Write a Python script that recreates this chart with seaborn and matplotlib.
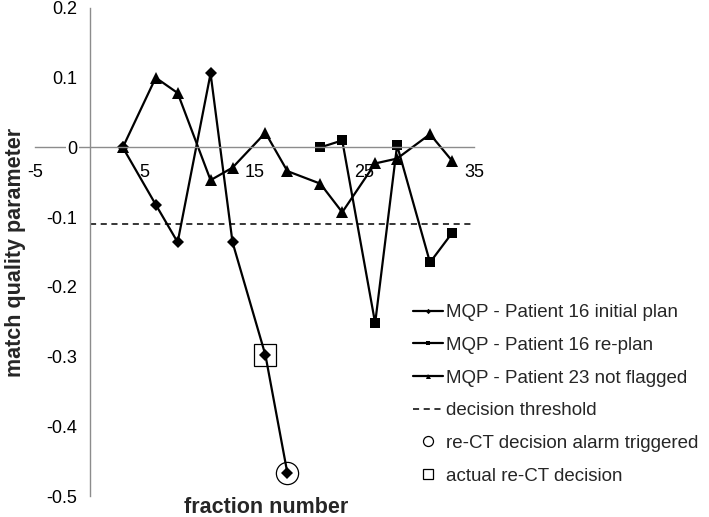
import seaborn as sns
import numpy as np
import matplotlib.pyplot as plt
import matplotlib.ticker as mticker

# fraction numbers and MQP values
p16_init_x = [3, 6, 8, 11, 13, 16, 18]
p16_init_y = [0.0, -0.082, -0.136, 0.106, -0.136, -0.298, -0.467]
p16_replan_x = [21, 23, 26, 28, 31, 33]
p16_replan_y = [0.0, 0.010, -0.252, 0.003, -0.165, -0.123]
p23_x = [3, 6, 8, 11, 13, 16, 18, 21, 23, 26, 28, 31, 33]
p23_y = [0.0, 0.100, 0.078, -0.047, -0.029, 0.021, -0.034, -0.052, -0.093, -0.023, -0.016, 0.019, -0.019]
threshold_x = [0, 35]
threshold_y = [-0.11, -0.11]
alarm_x = [18]
alarm_y = [-0.467]
decision_x = [16]
decision_y = [-0.298]
x_ticks = [-5, 5, 15, 25, 35]
y_ticks = [-0.5, -0.4, -0.3, -0.2, -0.1, 0.0, 0.1, 0.2]

sns.set_style("white")
plt.rcParams['font.family'] = ['Liberation Sans', 'DejaVu Sans']

fig = plt.figure(figsize=(7.09, 5.17), dpi=100)
ax = fig.add_axes([0.0494, 0.0406, 0.619, 0.944])

sns.lineplot(x=p16_init_x, y=p16_init_y, color='black', marker='D', markersize=6,
             markeredgewidth=0, linewidth=1.6, ax=ax, label='MQP - Patient 16 initial plan')
sns.lineplot(x=p16_replan_x, y=p16_replan_y, color='black', marker='s', markersize=7,
             markeredgewidth=0, linewidth=1.6, ax=ax, label='MQP - Patient 16 re-plan')
sns.lineplot(x=p23_x, y=p23_y, color='black', marker='^', markersize=8,
             markeredgewidth=0, linewidth=1.6, ax=ax, label='MQP - Patient 23 not flagged')
ax.plot(threshold_x, threshold_y, color='black', linestyle=(0, (4, 3)), linewidth=1.1,
        label='decision threshold')
ax.plot(alarm_x, alarm_y, linestyle='none', marker='o', markersize=16, markerfacecolor='none',
        markeredgecolor='black', markeredgewidth=0.9, label='re-CT decision alarm triggered')
ax.plot(decision_x, decision_y, linestyle='none', marker='s', markersize=16, markerfacecolor='none',
        markeredgecolor='black', markeredgewidth=0.9, label='actual re-CT decision')

ax.set_xlim(-5, 35)
ax.set_ylim(-0.5, 0.2)
ax.set_xticks(x_ticks)
ax.set_yticks(y_ticks)
fmt = mticker.FuncFormatter(lambda v, p: '%g' % (round(v, 2) + 0.0))
ax.xaxis.set_major_formatter(fmt)
ax.yaxis.set_major_formatter(fmt)

ax.spines['left'].set_position(('data', 0))
ax.spines['bottom'].set_position(('data', 0))
ax.spines['top'].set_visible(False)
ax.spines['right'].set_visible(False)
for s in ['left', 'bottom']:
    ax.spines[s].set_color('#8c8c8c')
    ax.spines[s].set_linewidth(1.0)
ax.tick_params(axis='both', which='major', direction='out', length=4, width=1,
               color='#8c8c8c', labelsize=13, labelcolor='black')
ax.tick_params(axis='x', pad=8)
ax.tick_params(axis='y', pad=5)

# the "0" label hides the x axis line behind it
ax.yaxis.set_zorder(3)
fig.canvas.draw()
for t in ax.get_yticklabels():
    if t.get_text() == '0':
        t.set_bbox(dict(facecolor='white', edgecolor='none', pad=1))

ax.set_xlabel('fraction number', fontsize=15.5, fontweight='bold')
ax.set_ylabel('match quality parameter', fontsize=15.5, fontweight='bold')
ax.xaxis.set_label_coords(0.526, -0.003)
ax.yaxis.set_label_coords(-0.02, 0.5)

h, l = ax.get_legend_handles_labels()
leg = ax.legend(h, l, loc='upper left', bbox_to_anchor=(0.5694, 0.43), bbox_transform=fig.transFigure,
                frameon=False, fontsize=13.5, handlelength=1.6, handletextpad=0.15,
                labelspacing=0.83, markerscale=0.45, borderpad=0)

fig.savefig('out.png', dpi=100)
